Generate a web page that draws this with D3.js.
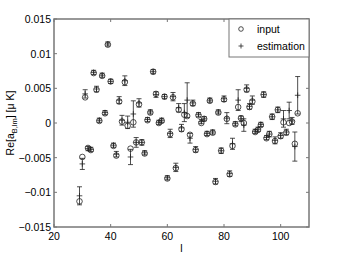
<!DOCTYPE html>
<html>
<head>
<meta charset="utf-8">
<script src="https://cdn.jsdelivr.net/npm/d3@7"></script>
<style>
  body { margin: 0; background: #fff; }
  text { font-family: "Liberation Sans", Arial, sans-serif; fill: #000; }
</style>
</head>
<body>
<script>
var WIDTH = 341,
    HEIGHT = 256;

// multipole l
var ells = [29, 30, 31, 32, 33, 34, 35, 36, 37, 38, 39, 40, 41, 42, 43, 44, 45, 46, 47, 48,
  49, 50, 51, 52, 53, 54, 55, 56, 57, 58, 59, 60, 61, 62, 63, 64, 65, 66, 67, 68,
  69, 70, 71, 72, 73, 74, 75, 76, 77, 78, 79, 80, 81, 82, 83, 84, 85, 86, 87, 88,
  89, 90, 91, 92, 93, 94, 95, 96, 97, 98, 99, 100, 101, 102, 103, 104, 105, 106];

// input values (circles)
var inputVals = [-0.0113, -0.0049, 0.0037, -0.0036, -0.0039, 0.0072, 0.0048, 0.0003, 0.0068, 0.0014,
  0.0113, 0.0060, -0.0033, -0.0047, 0.0031, 0.0002, 0.0059, -0.0004, -0.0037, 0.0001,
  -0.0028, 0.0027, -0.0028, -0.0044, 0.0004, 0.0015, 0.0074, 0.0042, 0.0000, 0.0003,
  0.0038, -0.0080, -0.0016, 0.0037, -0.0065, 0.0019, -0.0009, 0.0012, 0.0010, -0.0017,
  0.0028, -0.0039, 0.0011, 0.0000, 0.0006, -0.0016, 0.0032, -0.0014, -0.0085, 0.0015,
  -0.0040, 0.0034, 0.0006, -0.0074, -0.0033, -0.0002, 0.0023, 0.0007, 0.0000, 0.0048,
  0.0023, 0.0031, -0.0013, -0.0010, -0.0003, 0.0041, -0.0022, -0.0016, 0.0009, -0.0026,
  0.0019, -0.0019, 0.0001, -0.0014, 0.0000, 0.0002, -0.0030, 0.0014];

// estimated values (plus markers)
var estVals = [-0.0105, -0.0059, 0.0042, -0.0037, -0.0038, 0.0073, 0.0049, 0.0004, 0.0069, 0.0015,
  0.0114, 0.0060, -0.0032, -0.0045, 0.0033, 0.0004, 0.0061, 0.0001, -0.0049, 0.0013,
  -0.0028, 0.0029, -0.0028, -0.0043, 0.0005, 0.0016, 0.0074, 0.0041, 0.0001, 0.0004,
  0.0038, -0.0079, -0.0015, 0.0038, -0.0064, 0.0022, -0.0007, 0.0015, 0.0033, -0.0022,
  0.0029, -0.0038, 0.0012, 0.0002, 0.0006, -0.0015, 0.0033, -0.0013, -0.0084, 0.0016,
  -0.0040, 0.0035, 0.0007, -0.0073, -0.0030, -0.0001, 0.0033, 0.0006, -0.0003, 0.0050,
  0.0024, 0.0033, -0.0012, -0.0009, -0.0002, 0.0041, -0.0021, -0.0016, 0.0009, -0.0025,
  0.0019, -0.0018, 0.0006, -0.0013, 0.0018, 0.0003, -0.0034, 0.0040];

// error bar half widths
var errVals = [0.0013, 0.0008, 0.0006, 0.0003, 0.0003, 0.0003, 0.0004, 0.0003, 0.0003, 0.0003,
  0.0003, 0.0003, 0.0003, 0.0004, 0.0005, 0.0007, 0.0007, 0.0009, 0.0011, 0.0019,
  0.0007, 0.0006, 0.0004, 0.0003, 0.0003, 0.0003, 0.0003, 0.0004, 0.0003, 0.0003,
  0.0003, 0.0003, 0.0006, 0.0006, 0.0006, 0.0006, 0.0005, 0.0013, 0.0025, 0.0007,
  0.0004, 0.0004, 0.0003, 0.0003, 0.0003, 0.0003, 0.0003, 0.0003, 0.0004, 0.0003,
  0.0004, 0.0004, 0.0008, 0.0004, 0.0008, 0.0003, 0.0015, 0.0004, 0.0009, 0.0005,
  0.0004, 0.0006, 0.0003, 0.0003, 0.0003, 0.0004, 0.0003, 0.0004, 0.0004, 0.0005,
  0.0004, 0.0004, 0.0012, 0.0004, 0.0012, 0.0005, 0.0021, 0.0027];

var xTicks = [20, 40, 60, 80, 100];
var yTicks = [-0.015, -0.01, -0.005, 0, 0.005, 0.01, 0.015];
var yTickLabels = ["\u22120.015", "\u22120.01", "\u22120.005", "0", "0.005", "0.01", "0.015"];
var legendLabels = ["input", "estimation"];

var data = ells.map(function(l, i) {
  return { l: l, inp: inputVals[i], est: estVals[i], err: errVals[i] };
});

// plot box (window.top is reserved, so prefixed names)
var pLeft = 54, pRight = 309, pTop = 19, pBottom = 227;

var x = d3.scaleLinear().domain([20, 110]).range([pLeft, pRight]);
var y = d3.scaleLinear().domain([-0.015, 0.015]).range([pBottom, pTop]);

var svg = d3.select("body").append("svg")
    .attr("width", WIDTH)
    .attr("height", HEIGHT);

var markColor = "#222";

// error bars
var bars = svg.append("g").attr("stroke", markColor).attr("stroke-width", 0.8).attr("fill", "none");
data.forEach(function(d) {
  var g = bars.append("g");
  var cx = x(d.l);
  g.append("line").attr("x1", cx).attr("x2", cx).attr("y1", y(d.est - d.err)).attr("y2", y(d.est + d.err));
  [d.est - d.err, d.est + d.err].forEach(function(v) {
    g.append("line").attr("x1", cx - 2.5).attr("x2", cx + 2.5).attr("y1", y(v)).attr("y2", y(v));
  });
});

// plus markers (estimation)
var plusSize = 2.8;
svg.append("g").selectAll("path").data(data).enter().append("path")
  .attr("d", function(d) {
    var cx = x(d.l), cy = y(d.est);
    return "M" + (cx - plusSize) + "," + cy + "H" + (cx + plusSize) +
           "M" + cx + "," + (cy - plusSize) + "V" + (cy + plusSize);
  })
  .attr("stroke", markColor).attr("stroke-width", 0.8);

// circles (input)
svg.append("g").selectAll("circle").data(data).enter().append("circle")
  .attr("cx", function(d) { return x(d.l); })
  .attr("cy", function(d) { return y(d.inp); })
  .attr("r", 2.8)
  .attr("fill", "none")
  .attr("stroke", markColor)
  .attr("stroke-width", 0.8);

// axes box with inward ticks on all sides
var axisColor = "#777";
var tl = 3;
svg.append("rect")
  .attr("x", pLeft).attr("y", pTop)
  .attr("width", pRight - pLeft).attr("height", pBottom - pTop)
  .attr("fill", "none").attr("stroke", axisColor).attr("stroke-width", 1.5);

var tickG = svg.append("g").attr("stroke", axisColor).attr("stroke-width", 1);
xTicks.forEach(function(t) {
  tickG.append("line").attr("x1", x(t)).attr("x2", x(t)).attr("y1", pBottom).attr("y2", pBottom - tl);
  tickG.append("line").attr("x1", x(t)).attr("x2", x(t)).attr("y1", pTop).attr("y2", pTop + tl);
});
yTicks.forEach(function(t) {
  tickG.append("line").attr("x1", pLeft).attr("x2", pLeft + tl).attr("y1", y(t)).attr("y2", y(t));
  tickG.append("line").attr("x1", pRight).attr("x2", pRight - tl).attr("y1", y(t)).attr("y2", y(t));
});

// tick labels
svg.append("g").selectAll("text").data(xTicks).enter().append("text")
  .attr("x", function(d) { return x(d); })
  .attr("y", pBottom + 13)
  .attr("text-anchor", "middle")
  .attr("font-size", 10.5)
  .text(function(d) { return d; });

svg.append("g").selectAll("text").data(yTicks).enter().append("text")
  .attr("x", pLeft - 3)
  .attr("y", function(d) { return y(d) + 4; })
  .attr("text-anchor", "end")
  .attr("font-size", 10.5)
  .text(function(d, i) { return yTickLabels[i]; });

// axis titles
svg.append("text")
  .attr("x", x(65)).attr("y", 252)
  .attr("text-anchor", "middle")
  .attr("font-size", 10.5)
  .text("l");

var yl = svg.append("text")
  .attr("transform", "translate(14," + y(0) + ") rotate(-90)")
  .attr("text-anchor", "middle")
  .attr("font-size", 10.5);
yl.append("tspan").text("Re[a");
yl.append("tspan").attr("font-size", 7.5).attr("dy", 3).text("B,lm");
yl.append("tspan").attr("dy", -3).text("] [\u03bc K]");

// legend
var lg = svg.append("g");
lg.append("rect")
  .attr("x", 229).attr("y", pTop)
  .attr("width", pRight - 229).attr("height", 38)
  .attr("fill", "#fff").attr("stroke", axisColor).attr("stroke-width", 1);
lg.append("circle").attr("cx", 241).attr("cy", 29).attr("r", 2.3)
  .attr("fill", "none").attr("stroke", markColor).attr("stroke-width", 0.8);
lg.append("path").attr("d", "M238.5,46H243.5M241,43.5V48.5")
  .attr("stroke", markColor).attr("stroke-width", 0.8);
lg.selectAll("text").data(legendLabels).enter().append("text")
  .attr("x", 257)
  .attr("y", function(d, i) { return 33 + i * 17; })
  .attr("font-size", 10.5)
  .text(function(d) { return d; });
</script>
</body>
</html>
